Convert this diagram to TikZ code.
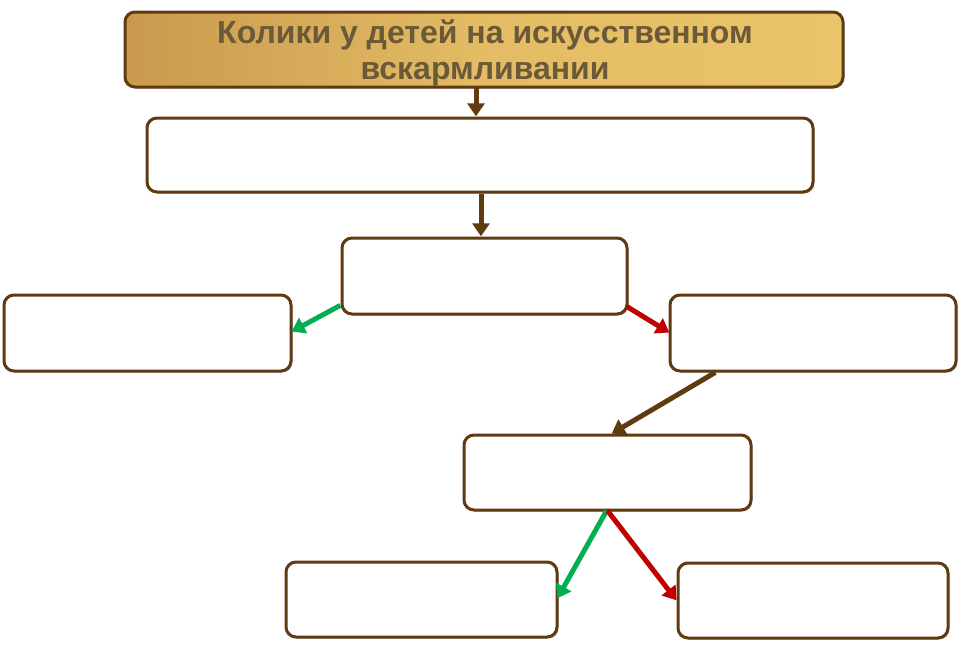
\documentclass[tikz,border=0pt]{standalone}
\usepackage{fontspec}
\setmainfont{Liberation Sans}
\usetikzlibrary{shadows,arrows.meta}
\definecolor{brd}{HTML}{603A10}
\definecolor{goldL}{HTML}{C99A4E}
\definecolor{goldR}{HTML}{EAC46A}
\definecolor{ttl}{HTML}{6B5A38}
\definecolor{grn}{HTML}{00B050}
\definecolor{rd}{HTML}{C00000}
\tikzset{
  box/.style={draw=brd, line width=3pt, rounded corners=10pt, fill=white,
    drop shadow={shadow xshift=1.5pt, shadow yshift=-1.5pt, fill=black, opacity=0.25}},
  conn/.style={line width=5pt, -{Triangle[length=13pt,width=17pt]}},
}
\begin{document}
\begin{tikzpicture}[x=1pt,y=-1pt]
\useasboundingbox (0,0) rectangle (960,648);
\path[box, left color=goldL, right color=goldR, middle color=goldR!80!goldL] (125,12) rectangle (843,87);
\node[text=ttl, font=\bfseries\fontsize{32}{36}\selectfont, align=center] (title) at (485,53) {Колики у детей на искусственном\\вскармливании};
\coordinate (t0) at (476,87);
\path[box] (147,118) rectangle (813,192);
\path[box] (342,238) rectangle (627,314);
\path[box] (4,295) rectangle (291,371);
\path[box] (670,295) rectangle (956,371);
\path[box] (464,435) rectangle (751,510);
\path[box] (286,562) rectangle (557,637);
\path[box] (678,563) rectangle (948,638);
\node[inner sep=0] (b2t) at (476,117) {};
\node[inner sep=0] (b2b) at (481,193) {};
\node[inner sep=0] (b3t) at (481,237) {};
\node[inner sep=0] (b3l) at (341,305) {};
\node[inner sep=0] (b3r) at (626,306) {};
\node[inner sep=0] (bl) at (291,332) {};
\node[inner sep=0] (br) at (670,333) {};
\node[inner sep=0] (brb) at (716,372) {};
\node[inner sep=0] (bmt) at (611,434) {};
\node[inner sep=0] (bmb) at (607,510) {};
\node[inner sep=0] (bbl) at (557,599) {};
\node[inner sep=0] (bbr) at (677,601) {};
\draw[conn, brd] (t0) -- (b2t);
\draw[conn, brd] (b2b) -- (b3t);
\draw[conn, grn] (b3l) -- (bl);
\draw[conn, rd] (b3r) -- (br);
\draw[conn, brd] (brb) -- (bmt);
\draw[conn, grn] (bmb) -- (bbl);
\draw[conn, rd] (bmb) -- (bbr);
\end{tikzpicture}
\end{document}
